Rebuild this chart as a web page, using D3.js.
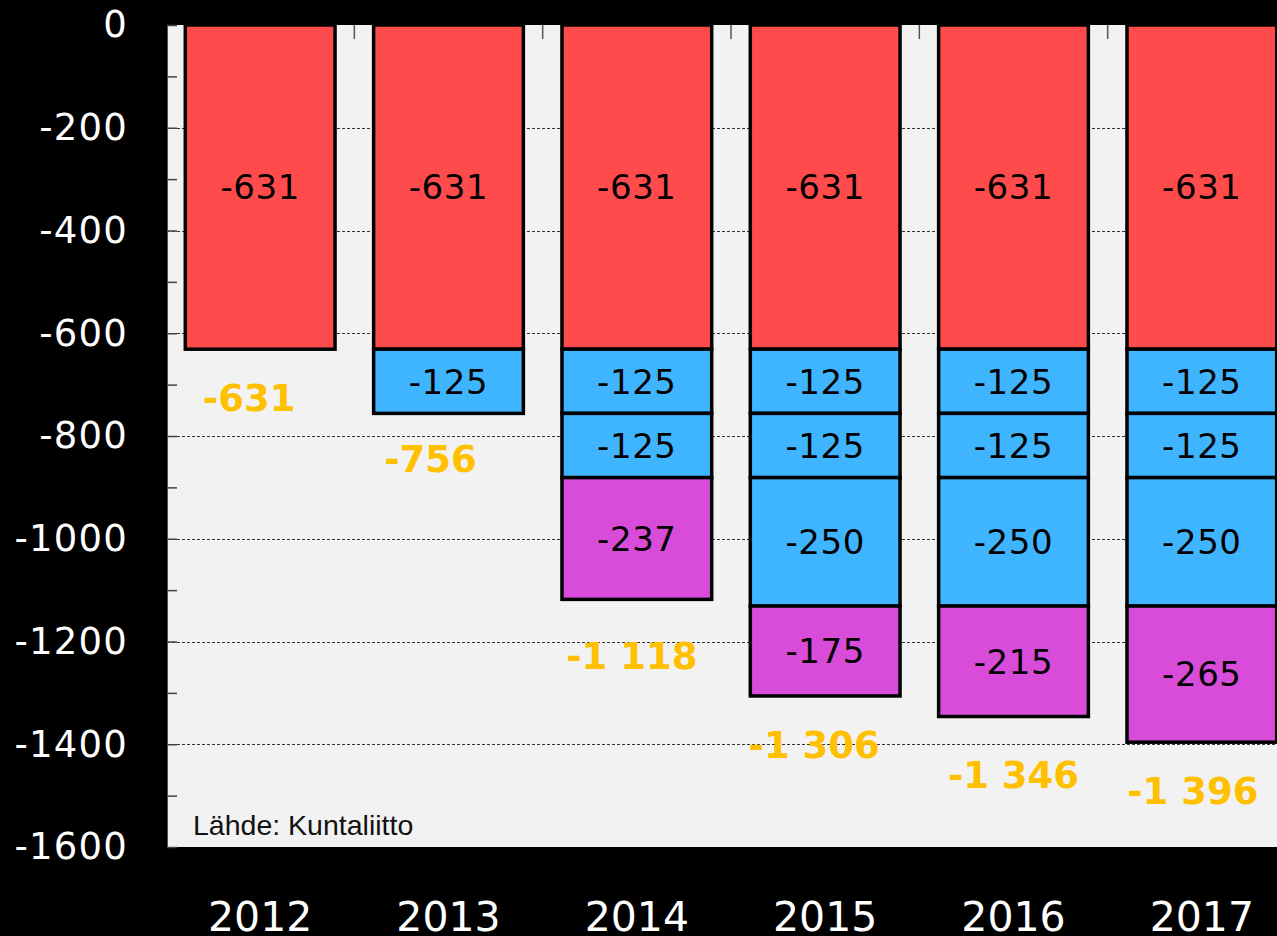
<!DOCTYPE html>
<html>
<head>
<meta charset="utf-8">
<script src="https://cdn.jsdelivr.net/npm/d3@7"></script>
<style>
  html, body { margin: 0; padding: 0; background: #000; }
  svg { display: block; }
</style>
</head>
<body>
<svg id="chart" width="1277" height="936"></svg>
<script>
// ---- data ----
const years = ["2012", "2013", "2014", "2015", "2016", "2017"];
const seriesKeys = ["base", "cut1", "cut2", "cut3", "cut4"];
const base = [-631, -631, -631, -631, -631, -631];
const cut1 = [0, -125, -125, -125, -125, -125];
const cut2 = [0, 0, -125, -125, -125, -125];
const cut3 = [0, 0, 0, -250, -250, -250];
const cut4 = [0, 0, -237, -175, -215, -265];
const yTicksMajor = [0, -200, -400, -600, -800, -1000, -1200, -1400, -1600];
const yTicksMinor = [-100, -300, -500, -700, -900, -1100, -1300, -1500];
const gridValues = [-200, -400, -600, -800, -1000, -1200, -1400];
const sourceText = "Lähde: Kuntaliitto";

// ---- styles / layout ----
const colors = { base: "#ff4b4b", cut1: "#40b5ff", cut2: "#40b5ff", cut3: "#40b5ff", cut4: "#d94bd9" };
const totalNudgeX = [-11, -18, -5, -11, 0, -9];
const totalNudgeY = [49, 45, 56, 49, 58, 48];

const svg = d3.select("#chart");
const W = 1277, H = 936;
const plot = { left: 167, top: 25, right: 1299, bottom: 847 };

svg.append("rect").attr("width", W).attr("height", H).attr("fill", "#000");

const rows = years.map((yr, i) => ({ year: yr, base: base[i], cut1: cut1[i], cut2: cut2[i], cut3: cut3[i], cut4: cut4[i] }));

const x = d3.scaleBand().domain(years).range([166, 1296]).paddingInner(0.205).paddingOuter(0.1025);
const y = d3.scaleLinear().domain([-1600, 0]).range([plot.bottom, plot.top]);

// clip
svg.append("defs").append("clipPath").attr("id", "plotClip")
  .append("rect").attr("x", plot.left).attr("y", plot.top)
  .attr("width", plot.right - plot.left).attr("height", plot.bottom - plot.top);

svg.append("rect")
  .attr("x", plot.left).attr("y", plot.top)
  .attr("width", plot.right - plot.left).attr("height", plot.bottom - plot.top)
  .attr("fill", "#f2f2f2");

const g = svg.append("g").attr("clip-path", "url(#plotClip)");

// gridlines
g.selectAll("line.grid").data(gridValues).join("line")
  .attr("class", "grid")
  .attr("x1", plot.left).attr("x2", plot.right)
  .attr("y1", d => Math.round(y(d)) + 0.5).attr("y2", d => Math.round(y(d)) + 0.5)
  .attr("stroke", "#333").attr("stroke-width", 1).attr("stroke-dasharray", "3,2");

// stacked bars
const stack = d3.stack().keys(seriesKeys).offset(d3.stackOffsetDiverging);
const layers = stack(rows);

const segs = [];
layers.forEach(layer => {
  layer.forEach((d, i) => {
    const v = d.data[layer.key];
    if (v !== 0) segs.push({ key: layer.key, year: d.data.year, y0: d[0], y1: d[1], v });
  });
});

g.selectAll("rect.seg").data(segs).join("rect")
  .attr("class", "seg")
  .attr("x", d => x(d.year))
  .attr("width", x.bandwidth())
  .attr("y", d => y(Math.max(d.y0, d.y1)))
  .attr("height", d => Math.abs(y(d.y0) - y(d.y1)))
  .attr("fill", d => colors[d.key])
  .attr("stroke", "#000").attr("stroke-width", 3.5);

// top category ticks
const boundaries = years.slice(1).map(yr => x(yr) - (x.step() - x.bandwidth()) / 2);
g.selectAll("line.ctick").data(boundaries).join("line")
  .attr("class", "ctick")
  .attr("x1", d => d).attr("x2", d => d)
  .attr("y1", plot.top).attr("y2", plot.top + 14)
  .attr("stroke", "#555").attr("stroke-width", 1.5);

// segment labels
g.selectAll("text.seglab").data(segs).join("text")
  .attr("class", "seglab")
  .attr("x", d => x(d.year) + x.bandwidth() / 2)
  .attr("y", d => (y(d.y0) + y(d.y1)) / 2)
  .attr("dy", "0.36em")
  .attr("text-anchor", "middle")
  .attr("font-family", "DejaVu Sans, Verdana, sans-serif")
  .attr("font-size", 34)
  .attr("letter-spacing", 0.6)
  .attr("fill", "#000")
  .text(d => String(d.v));

// totals
const fmt = d3.formatLocale({ decimal: ",", thousands: "\u0020", grouping: [3], currency: ["", ""], minus: "-" }).format(",d");
const totals = rows.map((r, i) => ({ year: r.year, i, total: seriesKeys.reduce((s, k) => s + r[k], 0) }));
svg.selectAll("text.total").data(totals).join("text")
  .attr("class", "total")
  .attr("x", d => x(d.year) + x.bandwidth() / 2 + totalNudgeX[d.i])
  .attr("y", d => y(d.total) + totalNudgeY[d.i])
  .attr("dy", "0.36em")
  .attr("text-anchor", "middle")
  .attr("font-family", "DejaVu Sans, Verdana, sans-serif")
  .attr("font-weight", "bold")
  .attr("font-size", 37)
  .attr("fill", "#ffc000")
  .text(d => fmt(d.total));

// y axis
const yAxis = svg.append("g").attr("transform", `translate(${plot.left},0)`)
  .call(d3.axisLeft(y).tickValues(yTicksMajor).tickSize(0).tickPadding(39).tickFormat(d => String(d)));
yAxis.select(".domain").remove();
yAxis.selectAll("text")
  .attr("fill", "#fff")
  .attr("font-family", "DejaVu Sans, Verdana, sans-serif")
  .attr("font-size", 37)
  .attr("letter-spacing", 1.2);

const yMinor = svg.append("g").attr("transform", `translate(${plot.left},0)`)
  .call(d3.axisRight(y).tickValues(yTicksMinor.concat(yTicksMajor)).tickSize(10).tickFormat(""));
yMinor.select(".domain").remove();
yMinor.selectAll("line").attr("stroke", "#444").attr("stroke-width", 1.5);

svg.append("line")
  .attr("x1", plot.left + 0.5).attr("x2", plot.left + 0.5)
  .attr("y1", plot.top).attr("y2", plot.bottom)
  .attr("stroke", "#555").attr("stroke-width", 1);

// x axis labels
const xAxis = svg.append("g").attr("transform", `translate(0,${plot.bottom})`)
  .call(d3.axisBottom(x).tickSize(0).tickPadding(0));
xAxis.select(".domain").remove();
xAxis.selectAll("text")
  .attr("y", 84).attr("dy", 0)
  .attr("fill", "#fff")
  .attr("font-family", "DejaVu Sans, Verdana, sans-serif")
  .attr("font-size", 41);

// source
svg.append("text")
  .attr("x", 193).attr("y", 835)
  .attr("font-family", "Liberation Sans, Arial, sans-serif")
  .attr("font-size", 28.5)
  .attr("fill", "#111")
  .text(sourceText);
</script>
</body>
</html>
